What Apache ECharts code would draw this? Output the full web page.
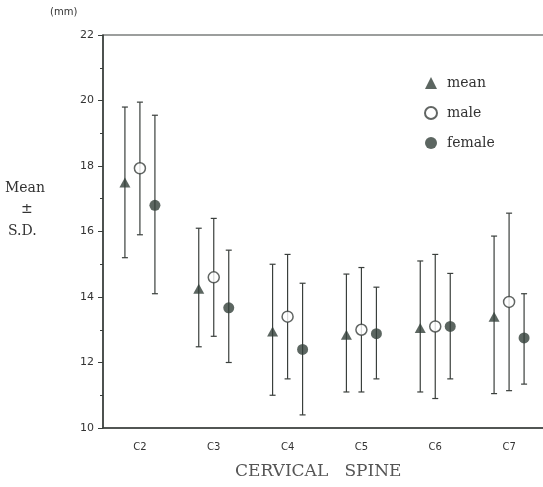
<!DOCTYPE html>
<html>
<head>
<meta charset="UTF-8">
<title>Cervical spine</title>
<style>
  html, body { margin: 0; padding: 0; background: #fff; }
  #main { width: 543px; height: 487px; }
</style>
</head>
<body>
<div id="main"></div>
<script src="https://cdn.jsdelivr.net/npm/echarts@6/dist/echarts.min.js"></script>
<script>
// values (mm)
var categories = ['C2', 'C3', 'C4', 'C5', 'C6', 'C7'];
var yTicks = [10, 12, 14, 16, 18, 20, 22];

var meanVal  = [17.50, 14.25, 12.95, 12.85, 13.05, 13.40];
var meanLow  = [15.20, 12.48, 11.00, 11.10, 11.10, 11.05];
var meanHigh = [19.80, 16.10, 15.00, 14.70, 15.10, 15.86];

var maleVal  = [17.93, 14.60, 13.40, 13.00, 13.10, 13.85];
var maleLow  = [15.90, 12.80, 11.50, 11.10, 10.90, 11.14];
var maleHigh = [19.95, 16.40, 15.30, 14.90, 15.30, 16.56];

var femaleVal  = [16.80, 13.67, 12.40, 12.88, 13.10, 12.75];
var femaleLow  = [14.10, 12.00, 10.40, 11.50, 11.50, 11.34];
var femaleHigh = [19.55, 15.43, 14.42, 14.30, 14.72, 14.10];

var ink = '#3a3f3c';
var markColor = '#33403a';

var myChart = echarts.init(document.getElementById('main'));

function errBars(name, low, high, dx) {
    var data = categories.map(function (c, i) { return [i, low[i], high[i]]; });
    return {
        name: name,
        type: 'custom',
        z: 1,
        silent: true,
        data: data,
        renderItem: function (params, api) {
            var top = api.coord([api.value(0), api.value(2)]);
            var bot = api.coord([api.value(0), api.value(1)]);
            var x = top[0] + dx;
            var st = { stroke: ink, lineWidth: 1.2 };
            return {
                type: 'group',
                children: [
                    { type: 'line', shape: { x1: x, y1: top[1], x2: x, y2: bot[1] }, style: st },
                    { type: 'line', shape: { x1: x - 3, y1: top[1], x2: x + 3, y2: top[1] }, style: st },
                    { type: 'line', shape: { x1: x - 3, y1: bot[1], x2: x + 3, y2: bot[1] }, style: st }
                ]
            };
        }
    };
}

var option = {
    backgroundColor: '#fff',
    animation: false,
    grid: {
        left: 103, width: 443, top: 35, bottom: 59,
        outerBoundsMode: 'none',
        show: true, borderColor: ink, borderWidth: 1.2
    },
    legend: {
        data: ['mean', 'male', 'female'],
        orient: 'vertical',
        left: 419, top: 71,
        itemWidth: 12, itemHeight: 12,
        itemGap: 16,
        selectedMode: false,
        textStyle: { fontFamily: 'DejaVu Serif', fontSize: 14, color: '#333', padding: [0, 0, 0, 5] }
    },
    xAxis: {
        type: 'category',
        data: categories,
        axisLine: { lineStyle: { color: ink, width: 1.5 } },
        axisTick: { alignWithLabel: true, length: 5, lineStyle: { color: ink } },
        axisLabel: { fontFamily: 'DejaVu Sans', fontSize: 10, color: '#333', margin: 14 }
    },
    yAxis: {
        type: 'value',
        min: yTicks[0], max: yTicks[yTicks.length - 1], interval: 2,
        axisLine: { show: true, lineStyle: { color: ink, width: 1.5 } },
        axisTick: { show: true, length: 5, lineStyle: { color: ink } },
        minorTick: { show: true, splitNumber: 2, length: 3, lineStyle: { color: ink } },
        splitLine: { show: false },
        axisLabel: { fontFamily: 'DejaVu Sans', fontSize: 11, color: '#333', margin: 9 }
    },
    graphic: [
        { type: 'text', left: 50, top: 7, style: { text: '(mm)', font: '10px DejaVu Sans', fill: '#333' } },
        { type: 'text', left: 5, top: 181, style: { text: 'Mean', font: '14px DejaVu Serif', fill: '#333' } },
        { type: 'text', left: 21, top: 202, style: { text: '±', font: '14px DejaVu Serif', fill: '#333' } },
        { type: 'text', left: 8, top: 224, style: { text: 'S.D.', font: '14px DejaVu Serif', fill: '#333' } },
        { type: 'text', left: 235, top: 463, style: { text: 'CERVICAL   SPINE', font: '17px DejaVu Serif', fill: '#555' } }
    ],
    series: [
        errBars('meanSD', meanLow, meanHigh, -15),
        errBars('maleSD', maleLow, maleHigh, 0),
        errBars('femaleSD', femaleLow, femaleHigh, 15),
        {
            name: 'mean', type: 'scatter', z: 3,
            symbol: 'triangle', symbolSize: [11, 10], symbolOffset: [-15, 0],
            itemStyle: { color: markColor },
            data: meanVal
        },
        {
            name: 'male', type: 'scatter', z: 3,
            symbol: 'circle', symbolSize: 11, symbolOffset: [0, 0],
            itemStyle: { color: '#fff', borderColor: ink, borderWidth: 1.5 },
            data: maleVal
        },
        {
            name: 'female', type: 'scatter', z: 3,
            symbol: 'circle', symbolSize: 11, symbolOffset: [15, 0],
            itemStyle: { color: markColor },
            data: femaleVal
        }
    ]
};

myChart.setOption(option);
window.addEventListener('resize', function () { myChart.resize(); });
</script>
</body>
</html>
